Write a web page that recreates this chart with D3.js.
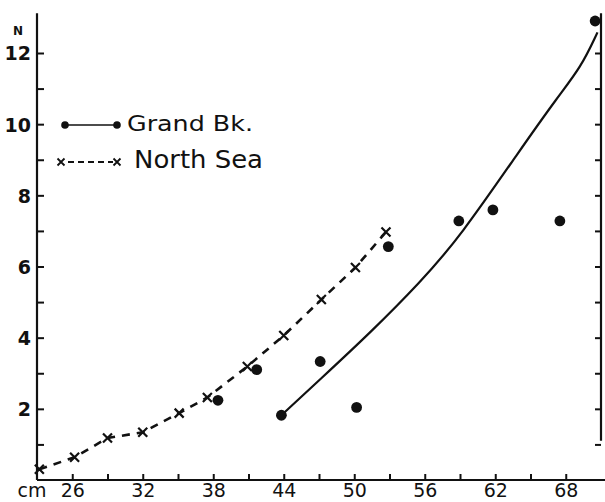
<!DOCTYPE html>
<html>
<head>
<meta charset="utf-8">
<script src="https://cdn.jsdelivr.net/npm/d3@7"></script>
<style>
  html, body { margin: 0; padding: 0; background: #fff; }
  svg { display: block; }
</style>
</head>
<body>
<svg id="chart" width="605" height="502"></svg>
<script>
// ---- data ----
const northSeaLength = [23.2, 26.2, 29.0, 32.0, 35.1, 37.5, 40.9, 44.0, 47.2, 50.1, 52.7];
const northSeaN      = [0.30, 0.64, 1.18, 1.34, 1.88, 2.32, 3.19, 4.06, 5.07, 5.97, 6.97];

const grandBkLength  = [38.4, 41.7, 43.8, 47.1, 50.2, 52.9, 58.9, 61.8, 67.5, 70.5];
const grandBkN       = [2.24, 3.10, 1.82, 3.33, 2.04, 6.56, 7.28, 7.59, 7.28, 12.9];

const grandBkCurveLength = [43.8, 47.1, 51.4, 55.6, 59.0, 64.1, 67.3, 69.3, 70.7];
const grandBkCurveN      = [1.82, 2.83, 4.15, 5.55, 6.83, 9.27, 10.76, 11.6, 12.58];

const xTickValues = [26, 29, 32, 35, 38, 41, 44, 47, 50, 53, 56, 59, 62, 65, 68];
const xTickLabels = [26, 32, 38, 44, 50, 56, 62, 68];
const yTickValues = [1, 2, 3, 4, 5, 6, 7, 8, 9, 10, 11, 12];
const yTickLabels = [2, 4, 6, 8, 10, 12];
const rightTickValues = [1, 2, 3, 4, 5, 6, 7, 8, 9, 10, 11, 12];

const seriesNames = ["Grand Bk.", "North Sea"];
const xUnit = "cm";
const yUnit = "N";

// ---- layout ----
const svg = d3.select("#chart");
const x = d3.scaleLinear().domain([23, 71]).range([37, 601]);
const y = d3.scaleLinear().domain([0, 12]).range([480, 53]);
const yTop = 13.12;
const ink = "#111";
const handFont = "'DejaVu Sans', sans-serif";

// axis frame lines
svg.append("line").attr("x1", x(23)).attr("x2", x(23)).attr("y1", y(0)).attr("y2", y(yTop))
  .attr("stroke", ink).attr("stroke-width", 2.2);
svg.append("line").attr("x1", x(23)).attr("x2", 605).attr("y1", y(0)).attr("y2", y(0))
  .attr("stroke", ink).attr("stroke-width", 2.2);
svg.append("line").attr("x1", x(71)).attr("x2", x(71)).attr("y1", y(yTop)).attr("y2", y(1.1))
  .attr("stroke", ink).attr("stroke-width", 2.2);

// bottom axis (ticks point up)
const xAxis = d3.axisBottom(x).tickValues(xTickValues).tickSize(-6).tickSizeOuter(0)
  .tickPadding(3)
  .tickFormat(d => xTickLabels.includes(d) ? d : "");
const gx = svg.append("g").attr("transform", `translate(0,${y(0)})`).call(xAxis);
gx.select(".domain").remove();
gx.selectAll(".tick line").attr("stroke", ink).attr("stroke-width", 2);
gx.selectAll(".tick text").attr("fill", ink).attr("font-family", handFont)
  .attr("font-size", 19).attr("dy", "0.72em");

// left axis (ticks point right)
const yAxis = d3.axisLeft(y).tickValues(yTickValues).tickSize(-7).tickSizeOuter(0)
  .tickPadding(6)
  .tickFormat(d => yTickLabels.includes(d) ? d : "");
const gy = svg.append("g").attr("transform", `translate(${x(23)},0)`).call(yAxis);
gy.select(".domain").remove();
gy.selectAll(".tick line").attr("stroke", ink).attr("stroke-width", 2);
gy.selectAll(".tick text").attr("fill", ink).attr("font-family", handFont)
  .attr("font-size", 19).attr("font-weight", "bold").attr("dy", "0.36em");

// right axis (ticks point left)
const rAxis = d3.axisRight(y).tickValues(rightTickValues).tickSize(-6).tickSizeOuter(0)
  .tickFormat("");
const gr = svg.append("g").attr("transform", `translate(${x(71)},0)`).call(rAxis);
gr.select(".domain").remove();
gr.selectAll(".tick line").attr("stroke", ink).attr("stroke-width", 2);

// unit labels
svg.append("text").attr("x", 18).attr("y", 35).attr("text-anchor", "middle")
  .attr("font-family", handFont).attr("font-size", 12).attr("font-weight", "bold")
  .attr("fill", ink).text(yUnit);
svg.append("text").attr("x", 32).attr("y", 497).attr("text-anchor", "middle")
  .attr("font-family", handFont).attr("font-size", 19).attr("fill", ink).text(xUnit);

// North Sea dashed line + crosses
const nsData = northSeaLength.map((d, i) => ({ x: d, y: northSeaN[i] }));
const gbData = grandBkLength.map((d, i) => ({ x: d, y: grandBkN[i] }));
const gbCurve = grandBkCurveLength.map((d, i) => ({ x: d, y: grandBkCurveN[i] }));

svg.append("path").datum(nsData)
  .attr("d", d3.line().x(d => x(d.x)).y(d => y(d.y)).curve(d3.curveLinear))
  .attr("fill", "none").attr("stroke", ink).attr("stroke-width", 2.6)
  .attr("stroke-dasharray", "8,7");

const crossSize = 4.5;
svg.append("g").selectAll("path").data(nsData).join("path")
  .attr("d", d => `M${x(d.x)-crossSize},${y(d.y)-crossSize}L${x(d.x)+crossSize},${y(d.y)+crossSize}M${x(d.x)-crossSize},${y(d.y)+crossSize}L${x(d.x)+crossSize},${y(d.y)-crossSize}`)
  .attr("stroke", ink).attr("stroke-width", 2.2).attr("fill", "none");

// Grand Bank curve + dots
svg.append("path").datum(gbCurve)
  .attr("d", d3.line().x(d => x(d.x)).y(d => y(d.y)).curve(d3.curveBasis))
  .attr("fill", "none").attr("stroke", ink).attr("stroke-width", 2.2);

svg.append("g").selectAll("circle").data(gbData).join("circle")
  .attr("cx", d => x(d.x)).attr("cy", d => y(d.y)).attr("r", 5.4).attr("fill", ink);

// legend
const lg = svg.append("g");
lg.append("line").attr("x1", 65).attr("x2", 117).attr("y1", 125).attr("y2", 125)
  .attr("stroke", ink).attr("stroke-width", 1.6);
lg.selectAll("circle").data([65, 117]).join("circle")
  .attr("cx", d => d).attr("cy", 125).attr("r", 3.8).attr("fill", ink);
lg.append("text").attr("x", 127).attr("y", 131).attr("font-family", handFont)
  .attr("font-size", 22).attr("fill", ink)
  .attr("textLength", 126).attr("lengthAdjust", "spacingAndGlyphs").text(seriesNames[0]);

lg.append("line").attr("x1", 65).attr("x2", 113).attr("y1", 162).attr("y2", 162)
  .attr("stroke", ink).attr("stroke-width", 1.8).attr("stroke-dasharray", "6,4")
  .attr("stroke-dashoffset", -3);
lg.selectAll("path").data([61, 117]).join("path")
  .attr("d", d => `M${d-3.5},${162-3.5}L${d+3.5},${162+3.5}M${d-3.5},${162+3.5}L${d+3.5},${162-3.5}`)
  .attr("stroke", ink).attr("stroke-width", 1.8);
lg.append("text").attr("x", 134).attr("y", 168).attr("font-family", handFont)
  .attr("font-size", 24).attr("fill", ink)
  .attr("textLength", 129).attr("lengthAdjust", "spacingAndGlyphs").text(seriesNames[1]);
</script>
</body>
</html>
